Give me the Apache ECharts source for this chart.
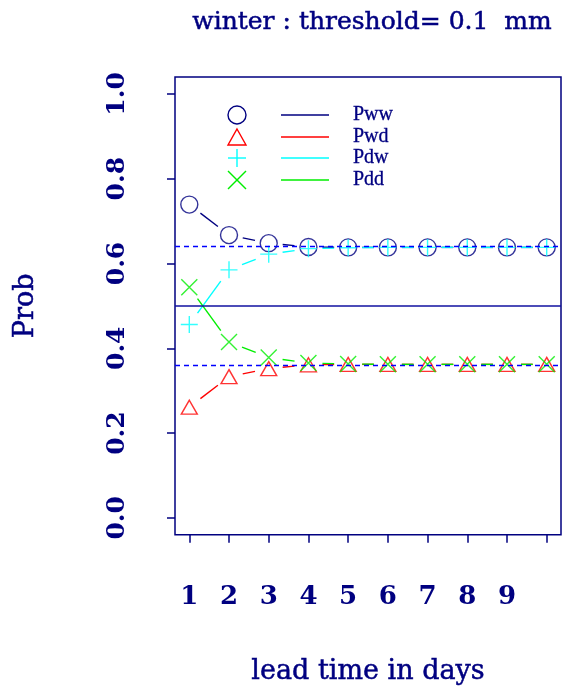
<!DOCTYPE html>
<html>
<head>
<meta charset="utf-8">
<script src="https://cdn.jsdelivr.net/npm/echarts@6/dist/echarts.min.js"></script>
<style>
  html, body { margin: 0; padding: 0; background: #ffffff; }
  #chart { width: 569px; height: 691px; }
</style>
</head>
<body>
<div id="chart"></div>
<script>
// Lead times (days) and transition probabilities for the winter season
const leadDays = [1, 2, 3, 4, 5, 6, 7, 8, 9, 10];
const pww = [0.739, 0.667, 0.648, 0.639, 0.638, 0.638, 0.638, 0.638, 0.638, 0.638];
const pwd = [0.261, 0.333, 0.352, 0.361, 0.362, 0.362, 0.362, 0.362, 0.362, 0.362];
const pdw = [0.456, 0.585, 0.622, 0.635, 0.637, 0.638, 0.638, 0.638, 0.638, 0.638];
const pdd = [0.544, 0.415, 0.378, 0.365, 0.363, 0.362, 0.362, 0.362, 0.362, 0.362];
// Stationary (climatological) levels and the 0.5 reference
const stationaryLevels = [0.638, 0.362];
const midLevel = 0.5;
// Axis ticks and labels
const xTickValues = [1, 2, 3, 4, 5, 6, 7, 8, 9, 10];
const xLabelValues = [1, 2, 3, 4, 5, 6, 7, 8, 9];
const yTickValues = [0, 0.2, 0.4, 0.6, 0.8, 1.0];
const seriesNames = ['Pww', 'Pwd', 'Pdw', 'Pdd'];

const NAVY = '#000080';
const SERIF = '"DejaVu Serif", serif';
const PLUS_PATH = 'path://M8,0L8,16M0,8L16,8';
const CROSS_PATH = 'path://M0,0L16,16M16,0L0,16';

const styles = {
  Pww: { color: NAVY, symbol: 'circle', size: 17 },
  Pwd: { color: '#ff0000', symbol: 'triangle', size: [16, 14] },
  Pdw: { color: '#00ffff', symbol: PLUS_PATH, size: 17 },
  Pdd: { color: '#00ee00', symbol: CROSS_PATH, size: 16 }
};
const values = { Pww: pww, Pwd: pwd, Pdw: pdw, Pdd: pdd };

const GAP = 14; // blank space left around each point by the connecting segments

function segmentData(ys) {
  const out = [];
  for (let i = 0; i < leadDays.length - 1; i++) {
    out.push([leadDays[i], ys[i], leadDays[i + 1], ys[i + 1]]);
  }
  return out;
}

function gappedSegment(color) {
  return function (params, api) {
    const a = api.coord([api.value(0), api.value(1)]);
    const b = api.coord([api.value(2), api.value(3)]);
    const dx = b[0] - a[0], dy = b[1] - a[1];
    const len = Math.sqrt(dx * dx + dy * dy);
    if (len <= 2 * GAP) return null;
    const ux = dx / len, uy = dy / len;
    return {
      type: 'line',
      shape: {
        x1: a[0] + ux * GAP, y1: a[1] + uy * GAP,
        x2: b[0] - ux * GAP, y2: b[1] - uy * GAP
      },
      style: { stroke: color, lineWidth: 1.4 }
    };
  };
}

const series = [];
// Reference lines: dashed stationary levels and solid mid line
series.push({
  type: 'line',
  data: [],
  silent: true,
  markLine: {
    symbol: 'none',
    silent: true,
    animation: false,
    label: { show: false },
    data: stationaryLevels.map(v => ({
      yAxis: v,
      lineStyle: { color: '#0000ff', type: [5, 4], width: 1.4 }
    })).concat([{
      yAxis: midLevel,
      lineStyle: { color: '#1010a0', type: 'solid', width: 1.6 }
    }])
  }
});

seriesNames.forEach(name => {
  const st = styles[name];
  series.push({
    type: 'custom',
    name: name + ' segments',
    renderItem: gappedSegment(st.color),
    encode: { x: [0, 2], y: [1, 3] },
    data: segmentData(values[name]),
    silent: true
  });
});
seriesNames.forEach(name => {
  const st = styles[name];
  series.push({
    type: 'scatter',
    name: name,
    symbol: st.symbol,
    symbolSize: st.size,
    data: leadDays.map((d, i) => [d, values[name][i]]),
    itemStyle: { color: 'rgba(0,0,0,0)', borderColor: st.color, borderWidth: 1.4 },
    emphasis: { disabled: true },
    silent: true
  });
});

// Legend drawn inside the plot: symbol, line sample, name
const legendX = { symbol: 237, lineStart: 281, lineEnd: 329, text: 353 };
const legendRows = [115, 137, 158, 180];
function strokeLine(x1, y1, x2, y2, c) {
  return { type: 'line', shape: { x1: x1, y1: y1, x2: x2, y2: y2 }, style: { stroke: c, lineWidth: 1.4 } };
}
function legendSymbol(name, cx, cy) {
  const c = styles[name].color;
  const s = { stroke: c, fill: null, lineWidth: 1.4 };
  if (name === 'Pww') return [{ type: 'circle', shape: { cx: cx, cy: cy, r: 9 }, style: s }];
  if (name === 'Pwd') return [{ type: 'polygon', shape: { points: [[cx, cy - 8], [cx + 9, cy + 8], [cx - 9, cy + 8]] }, style: s }];
  if (name === 'Pdw') return [strokeLine(cx, cy - 9, cx, cy + 9, c), strokeLine(cx - 9, cy, cx + 9, cy, c)];
  return [strokeLine(cx - 9, cy - 9, cx + 9, cy + 9, c), strokeLine(cx + 9, cy - 9, cx - 9, cy + 9, c)];
}
let legendGraphics = [];
seriesNames.forEach((name, i) => {
  const y = legendRows[i];
  legendGraphics = legendGraphics.concat(legendSymbol(name, legendX.symbol, y));
  legendGraphics.push(strokeLine(legendX.lineStart, y, legendX.lineEnd, y, styles[name].color));
  legendGraphics.push({
    type: 'text', x: legendX.text, y: y,
    style: { text: name, fill: NAVY, font: '20px "Liberation Serif", serif', stroke: NAVY, lineWidth: 0.3, verticalAlign: 'middle', align: 'left' }
  });
});

const heavyText = { color: NAVY, fontFamily: SERIF, fontSize: 27, textBorderColor: NAVY, textBorderWidth: 0.5 };

const chart = echarts.init(document.getElementById('chart'), null, { renderer: 'canvas' });
chart.setOption({
  animation: false,
  backgroundColor: '#ffffff',
  grid: {
    left: 175, top: 77, right: 8, bottom: 155,
    show: true, borderColor: NAVY, borderWidth: 1.5, backgroundColor: 'transparent'
  },
  xAxis: {
    type: 'value',
    min: 0.64, max: 10.36,
    name: 'lead time in days',
    nameLocation: 'middle',
    nameGap: 124,
    nameTextStyle: heavyText,
    axisLine: { show: false, onZero: false },
    splitLine: { show: false },
    axisTick: { show: true, inside: false, length: 8, customValues: xTickValues, lineStyle: { color: NAVY, width: 1.5 } },
    axisLabel: {
      customValues: xLabelValues, margin: 49,
      color: NAVY, fontFamily: SERIF, fontWeight: 'bold', fontSize: 26,
      formatter: v => String(v)
    }
  },
  yAxis: {
    type: 'value',
    min: -0.04, max: 1.04,
    name: 'Prob',
    nameLocation: 'middle',
    nameGap: 136,
    nameTextStyle: heavyText,
    axisLine: { show: false, onZero: false },
    splitLine: { show: false },
    axisTick: { show: true, inside: false, length: 8, customValues: yTickValues, lineStyle: { color: NAVY, width: 1.5 } },
    axisLabel: {
      customValues: yTickValues, margin: 45, rotate: 90,
      color: NAVY, fontFamily: SERIF, fontWeight: 'bold', fontSize: 25,
      formatter: v => v.toFixed(1)
    }
  },
  graphic: [{
    type: 'text', x: 372, y: 22,
    style: {
      text: 'winter : threshold= 0.1  mm', fill: NAVY, font: '25px "DejaVu Serif", serif',
      stroke: NAVY, lineWidth: 0.5, align: 'center', verticalAlign: 'middle'
    }
  }].concat(legendGraphics),
  series: series
});
</script>
</body>
</html>
